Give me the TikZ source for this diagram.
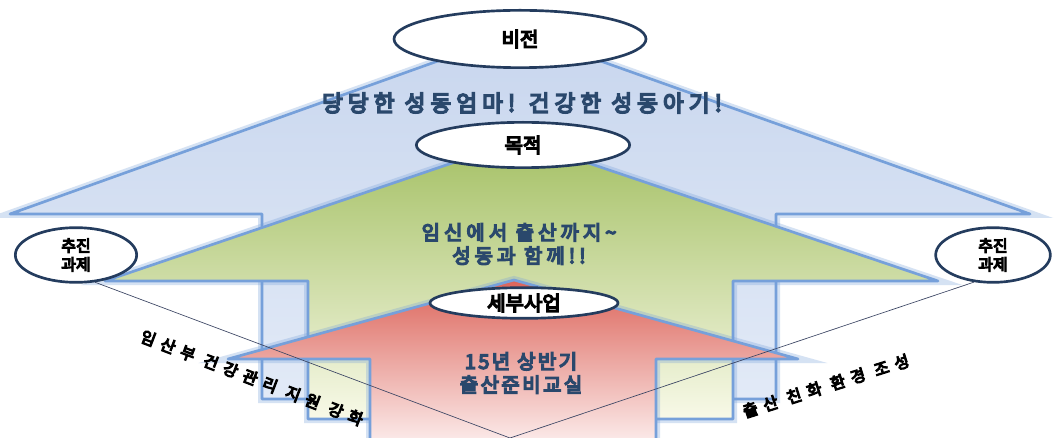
\documentclass[tikz,border=0pt]{standalone}
\usepackage{fontspec}
\newfontfamily\krfont{Noto Sans CJK KR}[FakeBold=7]
\usetikzlibrary{shapes.geometric}

\definecolor{glowblue}{RGB}{118,160,218}
\definecolor{bluetop}{RGB}{200,214,238}
\definecolor{bluebot}{RGB}{226,234,247}
\definecolor{greentop}{RGB}{164,192,100}
\definecolor{greenbot}{RGB}{248,249,232}
\definecolor{redtop}{RGB}{220,100,90}
\definecolor{redbot}{RGB}{255,250,250}
\definecolor{ovalline}{RGB}{36,60,94}
\definecolor{slatetext}{RGB}{42,72,108}
\definecolor{linegray}{RGB}{60,70,100}

\begin{document}
\begin{tikzpicture}[x=0.75pt,y=-0.75pt]

        \tikzstyle{ovalnode} = [draw=ovalline, line width=2pt, ellipse, fill=white, inner sep=0pt, align=center];
        \tikzstyle{blockarrow} = [draw=glowblue, line width=2pt, line join=round,
            preaction={draw=glowblue, line width=6pt, draw opacity=0.3}];
        \tikzstyle{slogan} = [text=slatetext, align=center];
        \tikzstyle{tasktext} = [inner sep=0pt];
        \tikzstyle{thinline} = [draw=linegray, line width=0.5pt];

        \clip (0,0) rectangle (1056,438);
        \fill[white] (0,0) rectangle (1056,438);

        % Back - Vision
        \path[blockarrow, top color=bluetop, bottom color=bluebot]
            (519,32) -- (1030,214) -- (776,214) -- (776,399)
            -- (262,399) -- (262,214) -- (10,214) -- cycle;
        % Back - Vision

        % Middle - Goal
        \path[blockarrow, top color=greentop, bottom color=greenbot]
            (520,140) -- (938,281) -- (733,281) -- (733,419)
            -- (308,419) -- (308,281) -- (105,281) -- cycle;
        % Middle - Goal

        % Front - Project
        \path[blockarrow, top color=redtop, bottom color=redbot]
            (514,280) -- (798,359) -- (656,359) -- (656,460)
            -- (370,460) -- (370,359) -- (228,359) -- cycle;
        % Front - Project

        % Labels
        \node[ovalnode, minimum width=189pt, minimum height=43pt,
            font=\krfont\fontsize{15}{17}\selectfont] (VIS) at (520,39) {비전};
        \node[ovalnode, minimum width=160pt, minimum height=34pt,
            font=\krfont\fontsize{15}{17}\selectfont] (GOAL) at (523,145) {목적};
        \node[ovalnode, minimum width=141pt, minimum height=23pt,
            font=\krfont\fontsize{15}{17}\selectfont] (PROJ) at (524,303) {세부사업};

        \node[slogan, font=\krfont\fontsize{17}{20}\selectfont\addfontfeature{LetterSpace=22}]
            (VT) at (522,103) {당당한 성동엄마! 건강한 성동아기!};
        \node[slogan, font=\krfont\fontsize{15}{17.5}\selectfont\addfontfeature{LetterSpace=20}]
            (GT) at (519,244) {임신에서 출산까지\textasciitilde\\성동과 함께!!};
        \node[slogan, font=\krfont\fontsize{15}{17.5}\selectfont\addfontfeature{LetterSpace=12}]
            (PT) at (521,373) {15년 상반기\\출산준비교실};

        % Tasks
        \node[ovalnode, minimum width=91pt, minimum height=41pt,
            font=\krfont\fontsize{12}{14}\selectfont] (TL) at (76,255) {추진\\과제};
        \node[ovalnode, minimum width=86pt, minimum height=41pt,
            font=\krfont\fontsize{12}{14}\selectfont] (TR) at (993,255) {추진\\과제};
        \coordinate (V) at (510,438);

        \draw [thinline] (TL.-55) -- (V);
        \draw [thinline] (TR.-125) -- (V);

        \node[tasktext, rotate=-21, font=\krfont\fontsize{12}{14}\selectfont\addfontfeature{LetterSpace=40}]
            (TLT) at (252,378) {임산부 건강관리 지원 강화};
        \node[tasktext, rotate=17.5, font=\krfont\fontsize{12}{14}\selectfont\addfontfeature{LetterSpace=40}]
            (TRT) at (826,386) {출산 친화 환경 조성};

\end{tikzpicture}
\end{document}
